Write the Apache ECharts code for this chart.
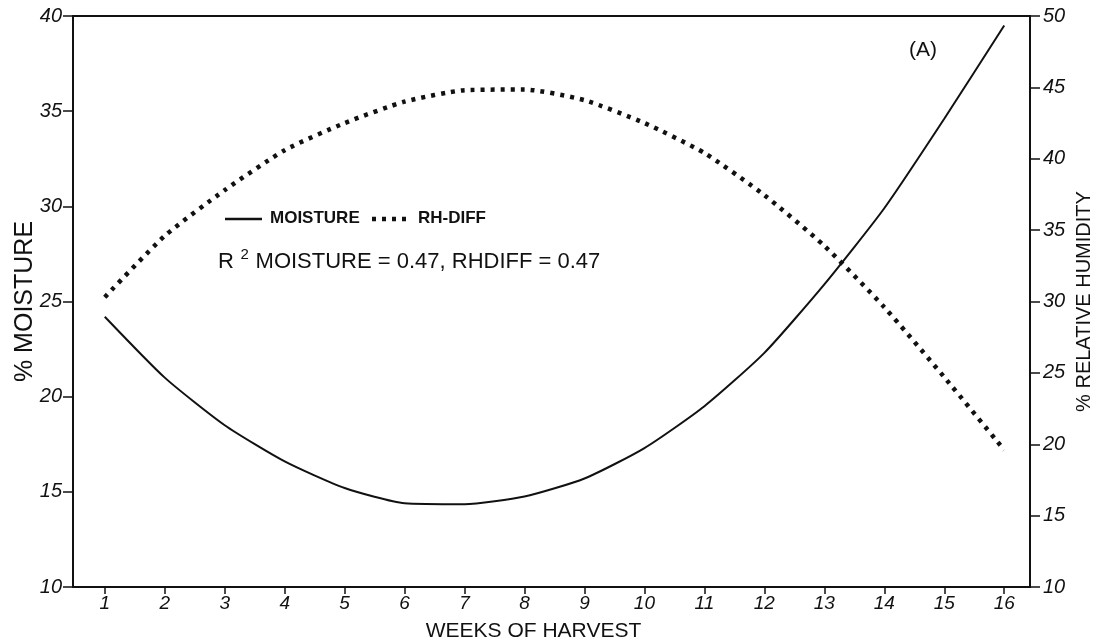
<!DOCTYPE html>
<html>
<head>
<meta charset="utf-8">
<script src="https://cdn.jsdelivr.net/npm/echarts@6/dist/echarts.min.js"></script>
<style>html,body{margin:0;padding:0;background:#fff}#c{width:1104px;height:644px}</style>
</head>
<body>
<div id="c"></div>
<script>
const weeks = [1,2,3,4,5,6,7,8,9,10,11,12,13,14,15,16];
const moisture = [24.2,21.0,18.5,16.6,15.2,14.4,14.35,14.75,15.7,17.3,19.5,22.3,25.9,29.9,34.6,39.5];
const rhDiff = [30.3,34.6,37.8,40.6,42.5,44.0,44.8,44.85,44.1,42.5,40.4,37.45,33.9,29.6,24.7,19.6];
const legendLabels = ['MOISTURE', 'RH-DIFF'];

const F = '"Liberation Sans", Arial, sans-serif';
const ink = '#111';
const chart = echarts.init(document.getElementById('c'));
chart.setOption({
  backgroundColor: '#fff',
  animation: false,
  grid: { left: 73, right: 74, top: 16, bottom: 57, containLabel: false, outerBoundsMode: 'none',
          show: true, borderColor: ink, borderWidth: 2 },
  xAxis: {
    type: 'value', min: 0.47, max: 16.43,
    name: 'WEEKS OF HARVEST', nameLocation: 'middle', nameGap: 34, nameMoveOverlap: false,
    nameTextStyle: { fontFamily: F, fontSize: 21, color: ink, padding: [0, 36, 0, 0] },
    splitLine: { show: false },
    axisLine: { lineStyle: { color: ink, width: 2 } },
    axisTick: { customValues: weeks, length: 7, lineStyle: { color: ink, width: 1.5 } },
    axisLabel: { customValues: weeks, fontFamily: F, fontStyle: 'italic', fontSize: 19, color: ink, margin: 7 }
  },
  yAxis: [{
    type: 'value', min: 10, max: 40, interval: 5, position: 'left',
    name: '% MOISTURE', nameLocation: 'middle', nameGap: 35, nameRotate: 90, nameMoveOverlap: false,
    nameTextStyle: { fontFamily: F, fontSize: 25, color: ink },
    splitLine: { show: false },
    axisLine: { show: true, lineStyle: { color: ink, width: 2 } },
    axisTick: { show: true, length: 10, lineStyle: { color: ink, width: 1.5 } },
    axisLabel: { fontFamily: F, fontStyle: 'italic', fontSize: 20, color: ink, margin: 11 }
  }, {
    type: 'value', min: 10, max: 50, interval: 5, position: 'right',
    name: '% RELATIVE HUMIDITY', nameLocation: 'middle', nameGap: 44, nameRotate: 90, nameMoveOverlap: false,
    nameTextStyle: { fontFamily: F, fontSize: 20, color: ink },
    splitLine: { show: false },
    axisLine: { show: true, lineStyle: { color: ink, width: 2 } },
    axisTick: { show: true, length: 10, lineStyle: { color: ink, width: 1.5 } },
    axisLabel: { fontFamily: F, fontStyle: 'italic', fontSize: 20, color: ink, margin: 13 }
  }],
  series: [{
    name: legendLabels[0], type: 'line', yAxisIndex: 0, smooth: 0.2, showSymbol: false, symbol: 'none',
    lineStyle: { color: ink, width: 2 }, itemStyle: { color: ink },
    data: weeks.map((w, i) => [w, moisture[i]])
  }, {
    name: legendLabels[1], type: 'line', yAxisIndex: 1, smooth: 0.2, showSymbol: false, symbol: 'none',
    lineStyle: { color: ink, width: 4.5, type: [4, 6], cap: 'butt' }, itemStyle: { color: ink },
    data: weeks.map((w, i) => [w, rhDiff[i]])
  }],
  graphic: [{
    type: 'line', shape: { x1: 225, y1: 219, x2: 262, y2: 219 },
    style: { stroke: ink, lineWidth: 2.5 }
  }, {
    type: 'text', left: 270, top: 210,
    style: { text: legendLabels[0], fontFamily: F, fontWeight: 'bold', fontSize: 17, fill: ink }
  }, {
    type: 'line', shape: { x1: 372, y1: 219, x2: 408, y2: 219 },
    style: { stroke: ink, lineWidth: 4.5, lineDash: [4, 6] }
  }, {
    type: 'text', left: 418, top: 210,
    style: { text: legendLabels[1], fontFamily: F, fontWeight: 'bold', fontSize: 17, fill: ink }
  }, {
    type: 'text', left: 218, top: 247,
    style: {
      text: '{a|R}  {s|2}  {a|MOISTURE = 0.47, RHDIFF = 0.47}',
      rich: {
        a: { fontFamily: F, fontSize: 22, fill: ink, verticalAlign: 'bottom', lineHeight: 26 },
        s: { fontFamily: F, fontSize: 15, fill: ink, verticalAlign: 'top', lineHeight: 26, padding: [0,0,12,0] }
      }
    }
  }, {
    type: 'text', left: 909, top: 40,
    style: { text: '(A)', fontFamily: F, fontSize: 21, fill: ink }
  }]
});
</script>
</body>
</html>
